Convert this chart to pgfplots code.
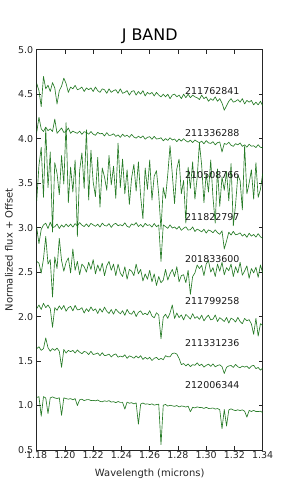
\documentclass[border=0pt]{standalone}
\usepackage{fontspec}
\setmainfont{DejaVu Sans}
\usepackage{pgfplots}
\pgfplotsset{compat=1.18}
\usepackage{pgfplotstable}
\definecolor{specgreen}{RGB}{0,100,0}
\pgfplotstableread{
x a b c d e f g h
1.1800 4.62 4.07 3.30 3.00 2.62 2.09 1.64 1.09
1.1816 4.54 4.24 3.70 2.82 2.60 2.13 1.66 1.10
1.1832 4.36 4.11 3.90 2.98 2.49 2.08 1.62 0.88
1.1848 4.70 4.08 3.34 3.03 2.65 2.15 1.64 1.10
1.1864 4.56 4.13 4.12 3.05 2.90 2.10 1.76 1.085
1.1880 4.60 4.09 3.45 2.99 2.59 2.13 1.65 0.91
1.1896 4.53 4.11 3.85 3.06 2.64 2.09 1.61 1.086
1.1912 4.63 4.08 2.95 3.00 2.22 1.88 1.64 1.097
1.1928 4.57 4.22 3.73 3.01 2.67 2.10 1.62 1.085
1.1944 4.39 4.06 3.61 3.04 2.54 2.07 1.645 1.079
1.1960 4.54 4.09 3.37 2.99 2.88 2.12 1.61 1.087
1.1976 4.59 4.12 3.81 3.03 2.63 2.08 1.43 0.89
1.1992 4.68 4.07 3.49 3.005 2.51 2.125 1.63 1.086
1.2008 4.62 4.08 4.18 3.04 2.61 2.06 1.59 1.078
1.2024 4.52 4.12 3.28 3.01 2.66 2.10 1.62 1.071
1.2040 4.58 4.06 3.68 3.04 2.49 2.115 1.605 1.078
1.2056 4.56 4.085 3.40 3.005 2.76 2.064 1.62 1.065
1.2072 4.60 4.07 3.76 3.045 2.52 2.125 1.59 1.078
1.2088 4.55 4.06 2.90 3.02 2.62 2.075 1.624 1.00
1.2104 4.56 4.085 3.64 3.057 2.47 2.08 1.60 1.064
1.2120 4.58 4.048 3.84 3.027 2.59 2.10 1.583 1.071
1.2136 4.53 4.078 3.44 3.012 2.56 2.04 1.608 1.055
1.2152 4.57 4.07 4.10 3.042 2.50 2.089 1.60 1.065
1.2168 4.55 4.05 3.31 3.009 2.61 2.056 1.572 1.067
1.2184 4.57 4.08 3.87 3.048 2.53 2.109 1.61 1.056
1.2200 4.53 4.05 3.51 3.03 2.64 2.066 1.573 1.058
1.2216 4.58 4.038 3.35 3.015 2.48 2.087 1.58 1.053
1.2232 4.54 4.071 3.79 3.039 2.58 2.035 1.591 1.062
1.2248 4.52 4.054 3.23 3.006 2.51 2.09 1.56 1.047
1.2264 4.56 4.06 3.67 3.05 2.60 2.05 1.594 1.042
1.2280 4.55 4.03 3.57 3.024 2.46 2.106 1.56 1.053
1.2296 4.51 4.068 3.42 3.018 2.57 2.06 1.566 1.046
1.2312 4.56 4.036 3.81 3.045 2.62 2.035 1.578 1.055
1.2328 4.52 4.04 3.48 3.003 2.52 2.079 1.546 1.038
1.2344 4.54 4.055 3.69 3.036 2.59 2.027 1.57 1.044
1.2360 4.55 4.025 3.33 3.048 2.46 2.084 1.58 1.032
1.2376 4.51 4.043 3.95 3.021 2.59 2.055 1.543 1.045
1.2392 4.56 4.014 3.45 3.033 2.49 2.031 1.556 1.035
1.2408 4.51 4.05 3.77 3.02 2.45 2.066 1.546 1.036
1.2424 4.52 4.025 3.38 3.054 2.56 2.014 1.57 0.96
1.2440 4.54 4.04 3.65 3.015 2.42 2.08 1.53 1.039
1.2456 4.49 4.015 3.26 3.003 2.53 2.037 1.558 1.026
1.2472 4.53 4.048 3.56 3.042 2.51 2.026 1.548 1.032
1.2488 4.54 4.019 3.71 3.027 2.46 2.065 1.532 1.018
1.2504 4.49 4.005 3.41 3.057 2.59 2.00 1.557 1.03
1.2520 4.53 4.028 3.74 3.012 2.48 2.048 1.535 0.79
1.2536 4.50 4.008 3.35 3.036 2.53 2.064 1.56 1.016
1.2552 4.54 4.031 3.10 3.006 2.40 2.022 1.518 1.028
1.2568 4.48 3.994 3.67 3.048 2.48 2.038 1.542 1.015
1.2584 4.52 4.015 3.43 3.024 2.42 2.019 1.522 1.019
1.2600 4.50 4.022 3.76 3.033 2.52 2.066 1.542 1.01
1.2616 4.52 3.993 3.31 3.006 2.39 2.006 1.506 1.019
1.2632 4.48 4.026 3.58 3.046 2.48 1.986 1.531 1.004
1.2648 4.52 3.996 3.64 3.01 2.35 2.043 1.541 1.011
1.2664 4.49 4.00 3.37 3.029 2.45 2.018 1.515 1.015
1.2680 4.47 4.01 2.98 2.62 2.38 1.75 1.53 0.56
1.2696 4.50 3.976 3.45 3.03 2.41 1.992 1.515 1.003
1.2712 4.47 4.001 3.33 3.012 2.53 2.026 1.56 1.012
1.2728 4.50 3.98 3.60 2.992 2.41 1.98 1.548 0.994
1.2744 4.45 4.01 3.92 3.031 2.48 2.041 1.548 1.003
1.2760 4.49 3.985 3.60 2.995 2.53 2.13 1.585 0.997
1.2776 4.50 3.996 3.27 3.007 2.45 1.979 1.59 0.99
1.2792 4.47 3.966 3.66 2.983 2.56 2.04 1.578 1.00
1.2808 4.49 3.996 3.77 3.014 2.39 1.989 1.53 0.984
1.2824 4.45 3.972 3.38 2.969 2.46 2.018 1.46 0.995
1.2840 4.50 4.00 3.53 2.993 2.47 1.962 1.472 0.991
1.2856 4.46 3.976 3.05 3.009 2.38 2.024 1.445 0.983
1.2872 4.50 3.961 3.68 2.973 2.52 2.00 1.468 0.993
1.2888 4.46 3.984 3.44 2.976 2.25 1.971 1.437 0.93
1.2904 4.49 3.955 3.74 3.007 2.45 2.032 1.46 0.98
1.2920 4.47 3.985 3.32 2.956 2.49 1.98 1.452 0.973
1.2936 4.46 3.968 3.56 2.984 2.58 2.00 1.48 0.985
1.2952 4.44 3.954 3.95 2.969 2.54 1.968 1.448 0.978
1.2968 4.49 3.972 3.70 2.952 2.575 2.016 1.465 0.979
1.2984 4.45 3.942 3.28 2.982 2.46 1.951 1.432 0.967
1.3000 4.47 3.978 3.61 2.938 2.59 1.99 1.452 0.98
1.3016 4.42 3.953 3.40 2.974 2.63 2.015 1.465 0.967
1.3032 4.45 3.946 3.76 2.963 2.50 1.963 1.44 0.968
1.3048 4.43 3.966 3.34 2.942 2.55 1.971 1.468 0.972
1.3064 4.47 3.93 3.05 2.975 2.45 2.018 1.435 0.96
1.3080 4.42 3.955 3.66 2.943 2.59 1.944 1.45 0.966
1.3096 4.45 3.963 3.24 2.925 2.51 1.988 1.458 0.953
1.3112 4.40 3.85 3.57 2.964 2.61 1.968 1.437 0.74
1.3128 4.32 3.946 3.42 2.76 2.47 1.944 1.36 0.955
1.3144 4.37 3.935 3.63 2.85 2.55 1.99 1.43 0.77
1.3160 4.42 3.96 3.30 2.949 2.515 1.927 1.445 0.95
1.3176 4.45 3.926 3.72 2.916 2.59 1.983 1.45 0.963
1.3192 4.41 3.914 3.02 2.958 2.45 1.967 1.428 0.95
1.3208 4.42 3.944 3.26 2.919 2.56 1.939 1.462 0.943
1.3224 4.44 3.93 3.59 2.926 2.49 1.99 1.435 0.952
1.3240 4.41 3.952 3.53 2.941 2.61 1.945 1.425 0.943
1.3256 4.45 3.913 3.20 2.905 2.465 1.92 1.443 0.951
1.3272 4.39 3.931 3.92 2.927 2.513 1.98 1.432 0.936
1.3288 4.43 3.904 3.38 2.891 2.57 1.953 1.443 0.87
1.3304 4.41 3.937 3.50 2.937 2.43 1.965 1.415 0.945
1.3320 4.43 3.915 3.65 2.904 2.54 1.917 1.443 0.933
1.3336 4.38 3.92 3.32 2.923 2.49 1.80 1.452 0.945
1.3352 4.41 3.90 3.73 2.893 2.555 1.98 1.415 0.932
1.3368 4.38 3.932 3.34 2.932 2.44 1.78 1.428 0.932
1.3384 4.42 3.902 3.43 2.897 2.58 1.92 1.398 0.936
1.3400 4.37 3.90 3.61 2.88 2.49 1.90 1.42 0.921
}\spectra

\begin{document}
\begin{tikzpicture}
\path[use as bounding box] (-36.7bp,-51bp) rectangle (254.3bp,450bp);
\begin{axis}[
  at={(0,0)}, anchor=south west,
  scale only axis, width=226bp, height=400.3bp,
  xmin=1.18, xmax=1.34, ymin=0.5, ymax=5.0,
  xtick={1.18,1.20,1.22,1.24,1.26,1.28,1.30,1.32,1.34},
  ytick={0.5,1.0,1.5,2.0,2.5,3.0,3.5,4.0,4.5,5.0},
  tick align=inside, tick pos=both,
  major tick length=4bp,
  axis line style={line width=0.7pt, black!85},
  every tick/.style={black!85, line width=0.6pt},
  scaled x ticks=false, scaled y ticks=false,
  /pgf/number format/assume math mode=true,
  xticklabel style={/pgf/number format/fixed, /pgf/number format/precision=2, /pgf/number format/fixed zerofill, yshift=2bp},
  yticklabel style={/pgf/number format/fixed, /pgf/number format/precision=1, /pgf/number format/fixed zerofill},
  tick label style={font=\fontsize{9.5}{11}\selectfont, text=black!85},
  title={J BAND},
  title style={at={(0.5,1.0075)}, anchor=base, font=\fontsize{16}{19}\selectfont},
  xlabel={Wavelength (microns)},
  xlabel style={at={(0.5,-0.0667)}, anchor=base, font=\fontsize{10}{12}\selectfont, text=black!85},
  ylabel={Normalized flux + Offset},
  ylabel style={at={(-0.1062,0.5)}, anchor=base, font=\fontsize{10}{12}\selectfont, text=black!85},
  specline/.style={no marks, color=specgreen, line width=0.65pt, opacity=0.85, line join=round},
]
\addplot[specline] table[x=x,y=a]{\spectra};
\addplot[specline] table[x=x,y=b]{\spectra};
\addplot[specline] table[x=x,y=c]{\spectra};
\addplot[specline] table[x=x,y=d]{\spectra};
\addplot[specline] table[x=x,y=e]{\spectra};
\addplot[specline] table[x=x,y=f]{\spectra};
\addplot[specline] table[x=x,y=g]{\spectra};
\addplot[specline] table[x=x,y=h]{\spectra};
\begin{scope}[every node/.style={anchor=west, inner sep=0pt, font=\fontsize{9.5}{11}\selectfont, text=black!90}]
\node at (axis cs:1.285,4.53) {211762841};
\node at (axis cs:1.285,4.06) {211336288};
\node at (axis cs:1.285,3.59) {210508766};
\node at (axis cs:1.285,3.12) {211822797};
\node at (axis cs:1.285,2.645) {201833600};
\node at (axis cs:1.285,2.17) {211799258};
\node at (axis cs:1.285,1.70) {211331236};
\node at (axis cs:1.285,1.23) {212006344};
\end{scope}
\end{axis}
\end{tikzpicture}
\end{document}
